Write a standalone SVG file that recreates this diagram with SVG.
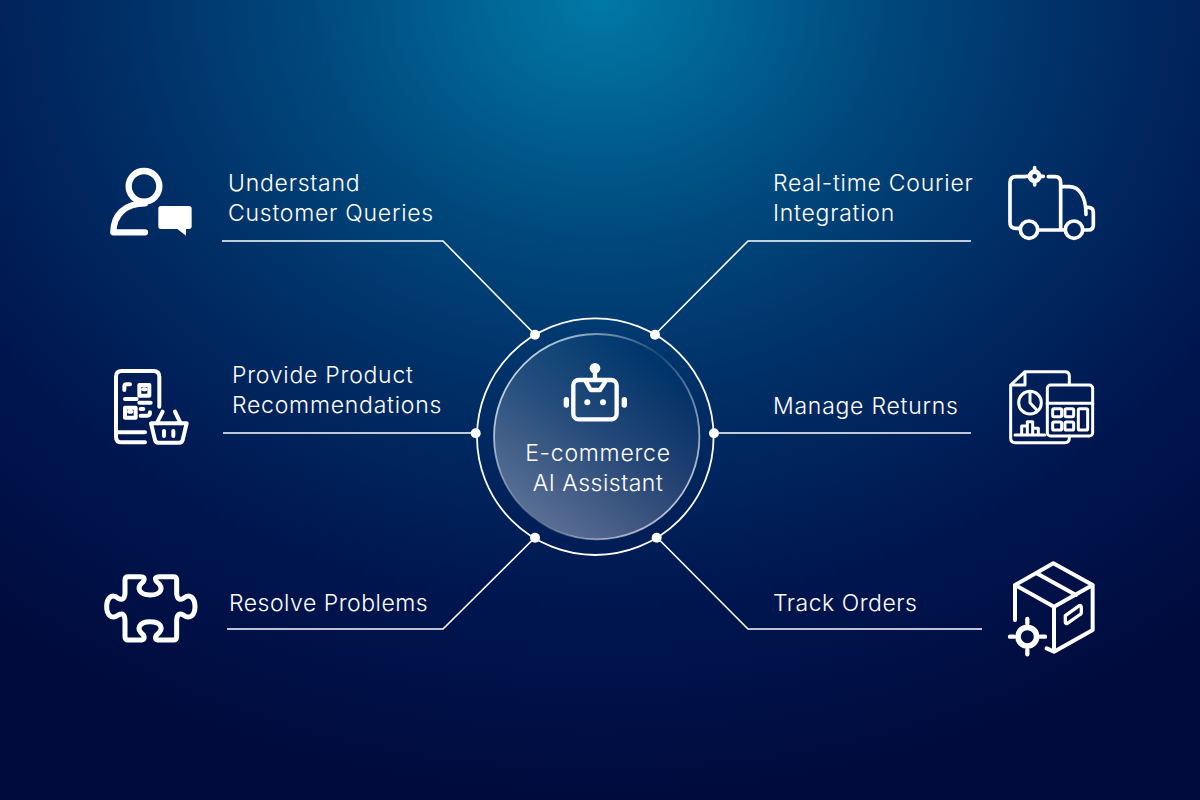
<svg xmlns="http://www.w3.org/2000/svg" width="1200" height="800" viewBox="0 0 1200 800">
<defs>
<radialGradient id="bg" gradientUnits="userSpaceOnUse" cx="600" cy="0" r="800" gradientTransform="translate(600 0) scale(1.2 1) translate(-600 0)">
<stop offset="0" stop-color="#0079a6"/><stop offset=".12" stop-color="#006696"/><stop offset=".3" stop-color="#00487c"/><stop offset=".5" stop-color="#002f66"/><stop offset=".75" stop-color="#001650"/><stop offset="1" stop-color="#000b3d"/>
</radialGradient>
<linearGradient id="glass" x1=".2" y1=".92" x2=".75" y2=".1">
<stop offset="0" stop-color="#fff" stop-opacity=".36"/><stop offset=".55" stop-color="#fff" stop-opacity=".14"/><stop offset="1" stop-color="#fff" stop-opacity="0"/>
</linearGradient>
<linearGradient id="edge" x1=".1" y1=".2" x2=".9" y2=".8">
<stop offset="0" stop-color="#fff" stop-opacity=".75"/><stop offset=".5" stop-color="#fff" stop-opacity=".1"/><stop offset="1" stop-color="#fff" stop-opacity=".7"/>
</linearGradient>
</defs>
<style>
text{font-family:"Inter","Noto Sans","Liberation Sans",sans-serif;font-weight:300;font-size:23px;letter-spacing:.75px;fill:#fff}
text.t{letter-spacing:.5px}
.ln{fill:none;stroke:#fff;stroke-width:1.6}
.dot{fill:#fff}
.ic{fill:none;stroke:#fff;stroke-linecap:round;stroke-linejoin:round}
.f{fill:#fff;stroke:none}
</style>
<rect width="1200" height="800" fill="url(#bg)"/>
<g id="connectors">
<path class="ln" d="M222 241H443L535 334.500"/>
<path class="ln" d="M971 241H748L655 334.500"/>
<path class="ln" d="M223 433H475"/>
<path class="ln" d="M971 433H714"/>
<path class="ln" d="M227 629H443L535 537.500"/>
<path class="ln" d="M982 629H748L657 537.500"/>
</g>
<g id="hub">
<circle cx="595.300" cy="436.700" r="118.300" fill="none" stroke="#fff" stroke-width="1.800"/>
<circle cx="596.700" cy="436.700" r="102.700" fill="url(#glass)" stroke="url(#edge)" stroke-width="1.800"/>
<circle class="dot" cx="535" cy="334.700" r="5"/><circle class="dot" cx="655" cy="334.700" r="5"/>
<circle class="dot" cx="475.700" cy="433.300" r="5"/><circle class="dot" cx="714" cy="433.300" r="5"/>
<circle class="dot" cx="535" cy="537.700" r="5"/><circle class="dot" cx="656.700" cy="537.700" r="5"/>
<g class="ic" transform="translate(460 300) scale(.3333)" stroke-width="13">
<rect x="340" y="240" width="130" height="118" rx="16"/>
<circle class="f" cx="405" cy="205" r="16"/><path d="M405 205V240M378 245L392 270H420L436 245"/>
<circle class="f" cx="382" cy="307" r="9"/><circle class="f" cx="429" cy="307" r="9"/>
<rect class="f" x="311" y="291" width="16" height="32" rx="8"/><rect class="f" x="485" y="291" width="16" height="32" rx="8"/>
</g>
<text x="598" y="461" text-anchor="middle">E-commerce</text>
<text class="t" x="598" y="491" text-anchor="middle">AI Assistant</text>
</g>
<g id="node-understand">
<g class="ic" transform="translate(90 150) scale(.3333)" stroke-width="19">
<circle cx="162" cy="109" r="46"/>
<path d="M165 160C105 160 70 195 70 247H165"/>
<path class="f" d="M213 168H297Q305 168 305 176V229Q305 237 297 237H288V257L262 237H213Q205 237 205 229V176Q205 168 213 168Z"/>
</g>
<text x="228" y="191">Understand</text><text x="228" y="221">Customer Queries</text>
</g>
<g id="node-recommend">
<g class="ic" transform="translate(90 355) scale(.3333)" stroke-width="12">
<path d="M165 262H95Q78 262 78 245V65Q78 48 95 48H190Q208 48 208 65V155M78 232H165"/>
<path d="M103 105V95Q103 88 110 88H120M148 90H178V122H148ZM160 103H166M105 132H140M148 143H182M105 158H137V188H105ZM117 170H124M152 182H172Q180 182 180 172M152 162H160"/>
<path d="M183 205H290L278 255Q276 263 268 263H205Q197 263 195 255ZM200 205L218 170M272 205L255 170M222 228V243M250 228V243"/>
</g>
<text x="232" y="383">Provide Product</text><text x="232" y="413">Recommendations</text>
</g>
<g id="node-resolve">
<g class="ic" transform="translate(90 560) scale(.3333)" stroke-width="15">
<path d="M115 50H150Q168 50 160 65C135 85 150 105 180 105C212 105 225 85 200 65Q190 50 208 50H250Q260 50 260 60V100Q262 125 280 115C300 98 315 115 315 140C315 165 300 180 280 165Q262 155 260 180V230Q260 240 250 240H208Q190 240 200 225C225 205 212 185 180 185C150 185 135 205 160 225Q168 240 150 240H115Q105 240 105 230V180Q103 155 85 165C65 180 50 165 50 140C50 115 65 98 85 115Q103 125 105 100V60Q105 50 115 50Z"/>
</g>
<text class="t" x="229" y="611">Resolve Problems</text>
</g>
<g id="node-courier">
<g class="ic" transform="translate(990 155) scale(.3333)" stroke-width="11">
<path d="M105 65H78Q60 65 60 83V203Q60 220 78 220H90M143 225H225M278 225H295Q310 225 310 210V172Q310 157 295 157H290M175 65H195Q212 65 212 83V218M215 95H238C268 95 288 125 288 178"/>
<circle cx="117" cy="224" r="26"/><circle cx="252" cy="224" r="26"/>
<circle cx="134" cy="64" r="14" stroke-width="14"/><path d="M134 38V46M134 82V90M108 64H116M152 64H160"/>
</g>
<text x="773" y="191">Real-time Courier</text><text x="773" y="221">Integration</text>
</g>
<g id="node-returns">
<g class="ic" transform="translate(990 360) scale(.3333)" stroke-width="9">
<path d="M238 72V48Q238 35 225 35H105L62 75V235Q62 248 75 248H225Q238 248 238 235V228M105 35V75H62"/>
<circle cx="120" cy="128" r="34"/><path d="M120 95V128L141 151"/>
<path d="M75 225H165M95 225V198H112V185H128V205H145V225M112 198V225M128 205V225"/>
<rect x="172" y="75" width="136" height="153" rx="10"/><path d="M172 130H308"/>
<rect x="188" y="146" width="27" height="24" rx="4"/><rect x="225" y="146" width="26" height="24" rx="4"/>
<rect x="188" y="186" width="27" height="24" rx="4"/><rect x="225" y="186" width="26" height="24" rx="4"/>
<rect x="265" y="146" width="28" height="64" rx="4"/>
</g>
<text x="773" y="414">Manage Returns</text>
</g>
<g id="node-track">
<g class="ic" transform="translate(990 555) scale(.3333)" stroke-width="12">
<path d="M75 195V90L190 25L308 90V225L192 290L170 280M75 90L192 155L308 90M192 155V290M140 55L258 120"/>
<path d="M226 182L268 152Q274 150 274 158V172Q274 178 268 180L232 205Q226 207 226 200Z" stroke-width="10"/>
<circle cx="112" cy="245" r="28" stroke-width="17"/><path d="M112 192V205M112 285V298M60 245H72M152 245H165" stroke-width="13"/>
</g>
<text class="t" x="773" y="611">Track Orders</text>
</g>
</svg>
